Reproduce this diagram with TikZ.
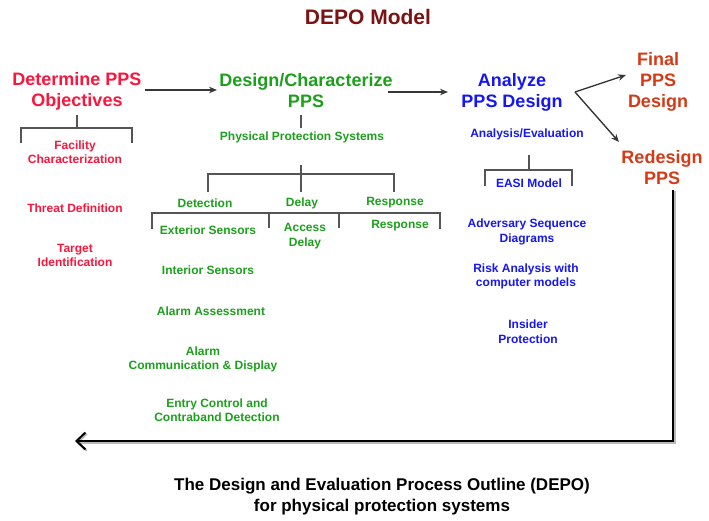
\documentclass[tikz,border=0pt]{standalone}
\usepackage{fontspec}
\setmainfont{Liberation Sans}
\usetikzlibrary{arrows.meta}
\definecolor{cred}{RGB}{250,22,60}
\definecolor{cgreen}{RGB}{28,160,28}
\definecolor{cblue}{RGB}{22,22,245}
\definecolor{corange}{RGB}{212,58,22}
\definecolor{cmaroon}{RGB}{125,18,18}
\definecolor{cbrk}{RGB}{85,85,85}
\definecolor{carr}{RGB}{55,55,55}
\tikzset{
  head/.style={font=\fontsize{18}{21}\selectfont\bfseries, align=center, inner sep=0pt},
  smalltxt/.style={font=\fontsize{12}{14.5}\selectfont\bfseries, align=center, inner sep=0pt},
  titletxt/.style={font=\fontsize{21}{24}\selectfont\bfseries, inner sep=0pt, text=cmaroon},
  captxt/.style={font=\fontsize{17}{21}\selectfont\bfseries, align=center, inner sep=0pt, text=black},
  brk/.style={draw=cbrk, line width=1.5pt},
  flow/.style={draw=carr, line width=1.4pt, -{Stealth[length=8pt,width=6.5pt]}},
  backflow/.style={draw=black, line width=2.8pt, line join=miter, -{Straight Barb[length=9pt,width=17pt,line width=2pt]},
    preaction={draw=gray!55, line width=2.8pt, transform canvas={xshift=1.3pt,yshift=-1.3pt}}}
}
\begin{document}
\begin{tikzpicture}[x=1pt,y=-1pt]
\useasboundingbox (0,0) rectangle (709,520);
% title
\node[titletxt] (title) at (368,17) {DEPO Model};
% headings
\node[head, text=cred] (det) at (77,91) {Determine PPS\\Objectives};
\node[head, text=cgreen] (des) at (306,91) {Design/Characterize\\PPS};
\node[head, text=cblue] (ana) at (512,92) {Analyze\\PPS Design};
\node[head, text=corange] (fin) at (658,82) {Final\\PPS\\Design};
\node[head, text=corange] (rdg) at (662,168) {Redesign\\PPS};
% red column
\node[smalltxt, text=cred] (fac) at (75,152) {Facility\\Characterization};
\node[smalltxt, text=cred] (thr) at (75,208) {Threat Definition};
\node[smalltxt, text=cred] (tgt) at (75,255.5) {Target\\Identification};
% green column
\node[smalltxt, text=cgreen] (pps) at (302,137) {Physical Protection Systems};
\node[smalltxt, text=cgreen] (detn) at (205,203) {Detection};
\node[smalltxt, text=cgreen] (dly) at (302,203) {Delay};
\node[smalltxt, text=cgreen] (rsp) at (395,203) {Response};
\node[smalltxt, text=cgreen] (ext) at (208,230) {Exterior Sensors};
\node[smalltxt, text=cgreen] (acc) at (305,236) {Access\\Delay};
\node[smalltxt, text=cgreen] (rsp2) at (400,226) {Response};
\node[smalltxt, text=cgreen] (intr) at (208,270) {Interior Sensors};
\node[smalltxt, text=cgreen] (ala) at (211,311) {Alarm Assessment};
\node[smalltxt, text=cgreen] (acd) at (203,359.5) {Alarm\\Communication \& Display};
\node[smalltxt, text=cgreen] (ent) at (217,410) {Entry Control and\\Contraband Detection};
% blue column
\node[smalltxt, text=cblue] (anev) at (527,134) {Analysis/Evaluation};
\node[smalltxt, text=cblue] (easi) at (529,183) {EASI Model};
\node[smalltxt, text=cblue] (asd) at (527,232) {Adversary Sequence\\Diagrams};
\node[smalltxt, text=cblue] (risk) at (526,276.5) {Risk Analysis with\\computer models};
\node[smalltxt, text=cblue] (ins) at (528,331.5) {Insider\\Protection};
% caption
\node[captxt] (cap) at (382,496.5) {The Design and Evaluation Process Outline (DEPO)\\for physical protection systems};
% brackets
\draw[brk] (77,115) -- (77,128);
\draw[brk] (21,143) -- (21,128) -- (132,128) -- (132,143);
\draw[brk] (301,115) -- (301,128);
\draw[brk] (301,165) -- (301,192);
\draw[brk] (208,192) -- (208,174) -- (394,174) -- (394,192);
\draw[brk] (152,229) -- (152,213) -- (440,213) -- (440,229);
\draw[brk] (269,213) -- (269,228);
\draw[brk] (339,213) -- (339,228);
\draw[brk] (529,155) -- (529,170);
\draw[brk] (485,186) -- (485,170) -- (572,170) -- (572,186);
% flow arrows
\coordinate (a1s) at (145,90);
\coordinate (a1e) at (217,90);
\coordinate (a2s) at (388,92);
\coordinate (a2e) at (448,92);
\coordinate (a3s) at (575,92);
\coordinate (a3f) at (626,75);
\coordinate (a3r) at (619,142);
\draw[flow] (a1s) -- (a1e);
\draw[flow] (a2s) -- (a2e);
\draw[flow] (a3s) -- (a3f);
\draw[flow] (a3s) -- (a3r);
% feedback
\coordinate (fbs) at (673,190);
\coordinate (fbe) at (75,441);
\draw[backflow] (fbs) |- (fbe);
\end{tikzpicture}
\end{document}
